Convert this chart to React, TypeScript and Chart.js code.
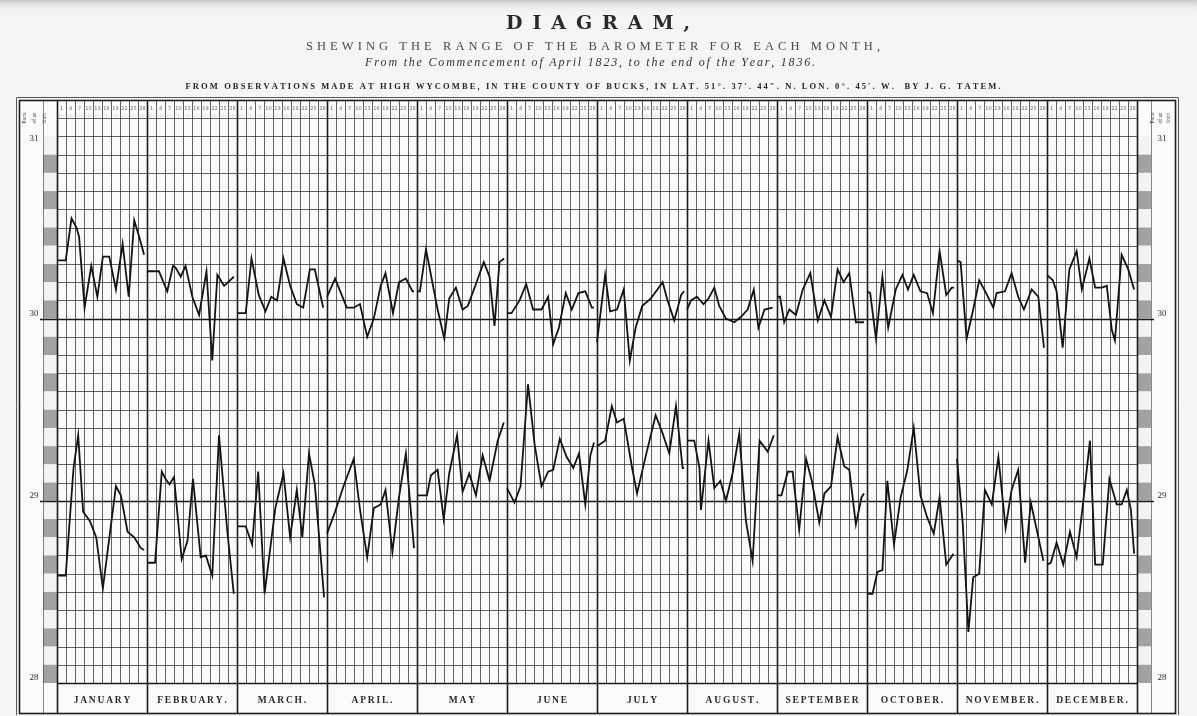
import React, { useEffect, useRef } from "react";
import { Chart, registerables } from "chart.js";

Chart.register(...registerables);

const W = 1197;
const H = 716;

const MONTHS = ["JANUARY", "FEBRUARY.", "MARCH.", "APRIL.", "MAY", "JUNE", "JULY", "AUGUST.", "SEPTEMBER", "OCTOBER.", "NOVEMBER.", "DECEMBER."];
const DAYS_IN_MONTH = [31, 28, 31, 30, 31, 30, 31, 31, 30, 31, 30, 31];
const Y_TICKS = [31, 30, 29, 28];

// [day of month, inches] — highest barometer readings
const JAN_MAX = [[1, 30.32], [4, 30.32], [6, 30.55], [7.7, 30.5], [8.6, 30.45], [10.5, 30.06], [12.8, 30.29], [14.9, 30.12], [16.8, 30.34], [19, 30.34], [21.3, 30.16], [23.6, 30.41], [25.7, 30.12], [27.6, 30.54], [29.3, 30.45], [31, 30.35]];
const FEB_MAX = [[1, 30.26], [4.7, 30.26], [7.3, 30.15], [9.1, 30.29], [9.9, 30.28], [11.5, 30.23], [13, 30.29], [15.1, 30.12], [17.2, 30.02], [19.5, 30.26], [21.3, 29.77], [22.9, 30.24], [25, 30.18], [28, 30.23]];
const MAR_MAX = [[1, 30.03], [4, 30.03], [6, 30.33], [8.5, 30.13], [10.8, 30.04], [12.8, 30.12], [14.8, 30.1], [17, 30.33], [19.3, 30.18], [21.6, 30.08], [23.8, 30.06], [26.1, 30.27], [27.8, 30.27], [30.7, 30.06]];
const APR_MAX = [[1, 30.12], [3.7, 30.22], [7.6, 30.06], [9.9, 30.06], [12, 30.08], [14.4, 29.9], [16.6, 30.0], [18.9, 30.18], [20.5, 30.25], [23, 30.03], [25, 30.2], [27.3, 30.22], [29.5, 30.15], [30, 30.15]];
const MAY_MAX = [[1, 30.15], [2, 30.15], [4.1, 30.38], [8.1, 30.05], [10.4, 29.89], [12.1, 30.11], [14.4, 30.17], [16.7, 30.05], [18.5, 30.07], [21.3, 30.19], [24, 30.31], [26, 30.23], [27.7, 29.96], [29.4, 30.31], [31, 30.33]];
const JUN_MAX = [[1, 30.03], [2.5, 30.03], [5.2, 30.1], [7.4, 30.19], [9.7, 30.05], [12.5, 30.05], [14.7, 30.12], [16.4, 29.86], [18.3, 29.95], [20.6, 30.14], [22.6, 30.05], [24.8, 30.14], [27.1, 30.15], [29.3, 30.06], [30, 30.06]];
const JUL_MAX = [[1, 29.87], [3.8, 30.24], [5.5, 30.04], [7.9, 30.05], [10.2, 30.16], [12.3, 29.77], [14.3, 29.95], [16.6, 30.07], [19.5, 30.11], [21.8, 30.16], [23.6, 30.2], [25.3, 30.1], [27.6, 29.99], [30, 30.13], [31, 30.15]];
const AUG_MAX = [[1, 30.05], [2.4, 30.1], [4.4, 30.12], [6.7, 30.08], [8.4, 30.11], [10.4, 30.17], [12.1, 30.07], [14.4, 30.0], [17.3, 29.98], [19.6, 30.01], [21.9, 30.05], [24, 30.16], [25.6, 29.95], [27.7, 30.05], [30.5, 30.06]];
const SEP_MAX = [[1, 30.12], [2, 30.12], [3.4, 29.98], [5.1, 30.05], [7.3, 30.02], [9.6, 30.16], [12.1, 30.25], [14.6, 29.99], [16.8, 30.1], [19, 30.01], [21.2, 30.27], [23.2, 30.2], [25.1, 30.25], [27.3, 29.98], [30, 29.98]];
const OCT_MAX = [[1, 30.15], [2.1, 30.14], [4.1, 29.89], [6.3, 30.23], [8.3, 29.95], [10.9, 30.16], [13.2, 30.24], [15.1, 30.16], [17.1, 30.24], [19.4, 30.15], [21.7, 30.14], [23.7, 30.03], [26, 30.37], [28.3, 30.13], [30.2, 30.17], [31, 30.17]];
const NOV_MAX = [[1, 30.32], [2.2, 30.31], [4.2, 29.89], [6.4, 30.05], [8.4, 30.21], [10.7, 30.14], [13.1, 30.06], [14.2, 30.14], [17, 30.15], [19.2, 30.25], [21.4, 30.12], [23.3, 30.05], [25.9, 30.16], [28.1, 30.12], [30, 29.84]];
const DEC_MAX = [[1, 30.24], [3, 30.21], [4.3, 30.15], [6.4, 29.84], [8.7, 30.27], [11.2, 30.37], [13, 30.16], [15.6, 30.33], [17.6, 30.17], [19.9, 30.17], [21.6, 30.18], [23.3, 29.94], [24.4, 29.88], [26.7, 30.35], [29, 30.27], [31, 30.16]];

// [day of month, inches] — lowest barometer readings
const JAN_MIN = [[1, 28.59], [4, 28.59], [5.5, 28.92], [6.7, 29.18], [8.3, 29.36], [10, 28.94], [12.3, 28.89], [14.5, 28.8], [16.8, 28.52], [21.3, 29.08], [23, 29.03], [25.3, 28.83], [27.6, 28.8], [29.9, 28.74], [31, 28.73]];
const FEB_MIN = [[1, 28.66], [3.5, 28.66], [5.6, 29.16], [6.8, 29.12], [8, 29.09], [9.4, 29.13], [11.8, 28.68], [13.6, 28.78], [15.3, 29.12], [17.7, 28.69], [19.3, 28.7], [21.3, 28.59], [23.4, 29.36], [26, 28.83], [28, 28.49]];
const MAR_MIN = [[1, 28.86], [4, 28.86], [6.2, 28.76], [8.3, 29.16], [10.5, 28.49], [14.2, 28.96], [17, 29.15], [19.3, 28.8], [21.6, 29.06], [23.5, 28.8], [25.8, 29.26], [27.8, 29.09], [31, 28.47]];
const APR_MIN = [[1, 28.82], [3.7, 28.94], [6.5, 29.08], [9.9, 29.23], [12.1, 28.94], [14.4, 28.69], [16.6, 28.96], [18.9, 28.98], [20.5, 29.06], [22.8, 28.72], [25, 29.02], [27.3, 29.26], [30, 28.74]];
const MAY_MIN = [[1, 29.03], [4.4, 29.03], [5.8, 29.14], [8.1, 29.17], [10.2, 28.9], [12.1, 29.15], [14.8, 29.36], [16.7, 29.05], [19, 29.15], [21.3, 29.03], [23.6, 29.25], [26, 29.11], [28.8, 29.33], [30.9, 29.43]];
const JUN_MIN = [[1, 29.07], [3.5, 28.99], [5.5, 29.08], [8, 29.64], [10.2, 29.31], [12.5, 29.08], [14.7, 29.16], [16.4, 29.17], [18.6, 29.34], [20.9, 29.24], [23.1, 29.18], [25, 29.26], [27.1, 28.98], [28.8, 29.25], [30, 29.32]];
const JUL_MIN = [[1, 29.3], [3.8, 29.33], [6.1, 29.52], [7.9, 29.43], [10.2, 29.45], [13.1, 29.18], [14.8, 29.04], [17.7, 29.24], [21.2, 29.47], [23.6, 29.37], [25.9, 29.26], [28.2, 29.52], [30.5, 29.18], [31, 29.18]];
const AUG_MIN = [[1, 29.33], [3.5, 29.33], [5.3, 29.18], [5.8, 28.95], [8.4, 29.33], [10.4, 29.07], [12.5, 29.11], [14.4, 29.0], [16.7, 29.15], [19, 29.37], [21.3, 28.89], [23.6, 28.67], [26, 29.33], [28.8, 29.27], [30.9, 29.36]];
const SEP_MIN = [[1, 29.03], [2.5, 29.03], [4.6, 29.16], [6.2, 29.16], [8.4, 28.84], [10.7, 29.23], [12.6, 29.11], [15.1, 28.88], [16.8, 29.04], [19, 29.08], [21.2, 29.35], [23.4, 29.19], [25.1, 29.17], [27.3, 28.87], [29.2, 29.02], [30, 29.04]];
const OCT_MIN = [[1, 28.49], [2.9, 28.49], [4.6, 28.61], [6.3, 28.62], [8, 29.11], [10.3, 28.76], [12.6, 29.02], [14.9, 29.17], [17.1, 29.4], [19.4, 29.03], [21.7, 28.91], [24, 28.82], [26, 29.02], [28.3, 28.65], [30.8, 28.71]];
const NOV_MIN = [[1, 29.23], [2.9, 28.88], [4.8, 28.28], [6.4, 28.58], [8.4, 28.6], [10.3, 29.06], [12.6, 28.98], [14.8, 29.24], [17.2, 28.85], [19.2, 29.06], [21.4, 29.17], [23.7, 28.66], [25.6, 28.99], [27.6, 28.84], [29.8, 28.67]];
const DEC_MIN = [[1, 28.65], [2.3, 28.66], [4.3, 28.77], [6.6, 28.65], [8.9, 28.83], [11.2, 28.69], [13.3, 28.97], [15.8, 29.33], [17.6, 28.65], [20.2, 28.65], [22.5, 29.12], [25, 28.98], [26.7, 28.98], [28.5, 29.06], [29.9, 28.95], [31, 28.71]];

const MAX_BY_MONTH = [JAN_MAX, FEB_MAX, MAR_MAX, APR_MAX, MAY_MAX, JUN_MAX, JUL_MAX, AUG_MAX, SEP_MAX, OCT_MAX, NOV_MAX, DEC_MAX];
const MIN_BY_MONTH = [JAN_MIN, FEB_MIN, MAR_MIN, APR_MIN, MAY_MIN, JUN_MIN, JUL_MIN, AUG_MIN, SEP_MIN, OCT_MIN, NOV_MIN, DEC_MIN];

const TITLE = "DIAGRAM,";
const SUBTITLE = "SHEWING THE RANGE OF THE BAROMETER FOR EACH MONTH,";
const SUBTITLE2 = "From the Commencement of April 1823, to the end of the Year, 1836.";
const SOURCE = "FROM OBSERVATIONS MADE AT HIGH WYCOMBE, IN THE COUNTY OF BUCKS, IN LAT. 51°. 37′. 44″. N. LON. 0°. 45′. W.  BY J. G. TATEM.";

function buildSeries(byMonth: number[][][]) {
  const pts: { x: number; y: number | null }[] = [];
  byMonth.forEach((arr, m) => {
    const dm = DAYS_IN_MONTH[m];
    arr.forEach(([d, v]) => pts.push({ x: m + (Math.min(d, dm) - 1) / dm, y: v }));
    pts.push({ x: m + 0.995, y: null });
  });
  return pts;
}

function spaced(ctx: CanvasRenderingContext2D, text: string, cx: number, y: number, width: number) {
  const chars = Array.from(text);
  const ws = chars.map((c) => ctx.measureText(c).width);
  const tot = ws.reduce((a, b) => a + b, 0);
  const gap = chars.length > 1 ? (width - tot) / (chars.length - 1) : 0;
  let x = cx - width / 2;
  ctx.textAlign = "left";
  chars.forEach((c, i) => {
    ctx.fillText(c, x, y);
    x += ws[i] + gap;
  });
}

const paperPlugin = {
  id: "paper",
  beforeDraw(chart: any) {
    const { ctx, chartArea: ca, scales } = chart;
    const xs = scales.x;
    const ys = scales.y;
    const fL = 19, fR = 1175, fT = 100, fB = 713;
    const stripW = 14;
    ctx.save();
    ctx.fillStyle = "#f5f5f3";
    ctx.fillRect(0, 0, W, H);
    const g = ctx.createLinearGradient(0, 0, 0, 14);
    g.addColorStop(0, "#c9c9c9");
    g.addColorStop(1, "rgba(245,245,243,0)");
    ctx.fillStyle = g;
    ctx.fillRect(0, 0, W, 14);
    ctx.fillStyle = "#fbfbfa";
    ctx.fillRect(fL, fT, fR - fL, fB - fT);

    // titles
    ctx.fillStyle = "#2a2a2a";
    ctx.textBaseline = "alphabetic";
    ctx.font = "bold 19px 'DejaVu Serif'";
    spaced(ctx, TITLE, 598, 29, 184);
    ctx.fillStyle = "#4a4a4a";
    ctx.font = "12.5px 'Liberation Serif'";
    spaced(ctx, SUBTITLE, 593, 50, 574);
    ctx.fillStyle = "#333";
    ctx.font = "italic 12px 'Liberation Serif'";
    spaced(ctx, SUBTITLE2, 590, 66, 450);
    ctx.fillStyle = "#262626";
    ctx.font = "bold 8.5px 'Liberation Serif'";
    spaced(ctx, SOURCE, 593, 89, 815);

    // graduated strips
    for (let i = 0; i < 30; i++) {
      const a = ys.getPixelForValue(31 - i / 10);
      const b = ys.getPixelForValue(31 - (i + 1) / 10);
      ctx.fillStyle = i % 2 ? "#a2a2a2" : "#f3f3f3";
      ctx.fillRect(ca.left - stripW, a, stripW, b - a);
      ctx.fillRect(ca.right, a, stripW, b - a);
    }
    ctx.strokeStyle = "rgba(60,60,60,0.6)";
    ctx.lineWidth = 1;
    ctx.beginPath();
    ctx.moveTo(ca.left - stripW + 0.5, fT);
    ctx.lineTo(ca.left - stripW + 0.5, fB);
    ctx.moveTo(ca.right + stripW + 0.5, fT);
    ctx.lineTo(ca.right + stripW + 0.5, fB);
    ctx.stroke();

    // vertical grid (ten divisions a month)
    for (let i = 0; i <= 120; i++) {
      const px = Math.round(xs.getPixelForValue(i / 10)) + 0.5;
      const month = i % 10 === 0;
      ctx.strokeStyle = month ? "#1c1c1c" : "rgba(45,45,45,0.75)";
      ctx.lineWidth = month ? 1.6 : 1;
      ctx.beginPath();
      ctx.moveTo(px, fT);
      ctx.lineTo(px, month ? fB : ca.bottom);
      ctx.stroke();
    }
    // horizontal grid (tenths of an inch)
    for (let k = 0; k <= 32; k++) {
      const v = 28 + k / 10;
      const py = Math.round(ys.getPixelForValue(v)) + 0.5;
      const major = k === 10 || k === 20;
      ctx.strokeStyle = major || k === 0 ? "#1a1a1a" : "rgba(45,45,45,0.75)";
      ctx.lineWidth = major ? 1.7 : k === 0 ? 1.4 : 1;
      ctx.beginPath();
      ctx.moveTo(major ? ca.left - stripW - 3 : ca.left, py);
      ctx.lineTo(major ? ca.right + stripW + 3 : ca.right, py);
      ctx.stroke();
    }

    // header day numbers
    ctx.fillStyle = "#6a6a6a";
    ctx.font = "5px 'DejaVu Sans'";
    ctx.textAlign = "center";
    for (let m = 0; m < 12; m++) {
      for (let s = 0; s < 10; s++) {
        const px = xs.getPixelForValue(m + (s + 0.5) / 10);
        ctx.fillText(String(1 + s * 3), px, 110);
        ctx.fillText("·:·", px, 117);
      }
    }

    // tick labels
    ctx.fillStyle = "#2b2b2b";
    ctx.font = "9px 'Liberation Serif'";
    ctx.textAlign = "center";
    Y_TICKS.forEach((t) => {
      const py = ys.getPixelForValue(t);
      const yy = t === 31 ? py + 5 : py - 3;
      ctx.fillText(String(t), 34, yy);
      ctx.fillText(String(t), 1162, yy);
    });

    // "Parts of an Inch"
    ctx.font = "5.5px 'Liberation Serif'";
    ctx.fillStyle = "#444";
    const sideWords = ["Parts", "of an", "Inch"];
    [[26, 36, 46], [1154, 1162, 1170]].forEach((cols) => {
      sideWords.forEach((w, i) => {
        ctx.save();
        ctx.translate(cols[i], 118);
        ctx.rotate(-Math.PI / 2);
        ctx.textAlign = "center";
        ctx.fillText(w, 0, 0);
        ctx.restore();
      });
    });

    // month labels
    ctx.fillStyle = "#2a2a2a";
    ctx.font = "bold 9.5px 'Liberation Serif'";
    MONTHS.forEach((name, m) => {
      const cx = xs.getPixelForValue(m + 0.5);
      const chars = Array.from(name);
      const nat = chars.reduce((a, c) => a + ctx.measureText(c).width, 0);
      spaced(ctx, name, cx, 703, nat + 1.8 * (chars.length - 1));
    });
    ctx.restore();
  },
  afterDraw(chart: any) {
    const { ctx } = chart;
    const fL = 19, fR = 1175, fT = 100, fB = 713;
    ctx.save();
    ctx.strokeStyle = "#1e1e1e";
    ctx.lineWidth = 1.6;
    ctx.strokeRect(fL + 0.5, fT + 0.5, fR - fL, fB - fT);
    ctx.lineWidth = 1;
    ctx.strokeStyle = "#555";
    ctx.beginPath();
    ctx.moveTo(fL - 2.5, fT - 2);
    ctx.lineTo(fL - 2.5, fB + 2);
    ctx.moveTo(fR + 3.5, fT - 2);
    ctx.lineTo(fR + 3.5, fB + 2);
    ctx.moveTo(fL - 2.5, fT - 2.5);
    ctx.lineTo(fR + 3.5, fT - 2.5);
    ctx.stroke();
    ctx.restore();
  },
};

export default function App() {
  const ref = useRef<HTMLCanvasElement | null>(null);
  useEffect(() => {
    if (!ref.current) return;
    const chart = new Chart(ref.current, {
      type: "line",
      data: {
        datasets: [
          {
            label: "Highest",
            data: buildSeries(MAX_BY_MONTH),
            borderColor: "#141414",
            borderWidth: 1.8,
            pointRadius: 0,
            tension: 0,
            spanGaps: false,
          },
          {
            label: "Lowest",
            data: buildSeries(MIN_BY_MONTH),
            borderColor: "#141414",
            borderWidth: 1.8,
            pointRadius: 0,
            tension: 0,
            spanGaps: false,
          },
        ],
      },
      options: {
        animation: false,
        responsive: false,
        devicePixelRatio: 1,
        events: [],
        layout: { padding: { left: 57, right: 60, top: 100, bottom: 33 } },
        scales: {
          x: { type: "linear", min: 0, max: 12, display: false },
          y: { type: "linear", min: 28, max: 31.2, display: false },
        },
        plugins: { legend: { display: false }, tooltip: { enabled: false } },
      },
      plugins: [paperPlugin],
    } as any);
    return () => chart.destroy();
  }, []);
  return (
    <div style={{ position: "fixed", left: 0, top: 0, width: W, height: H }}>
      <canvas ref={ref} width={W} height={H} style={{ display: "block" }} />
    </div>
  );
}
